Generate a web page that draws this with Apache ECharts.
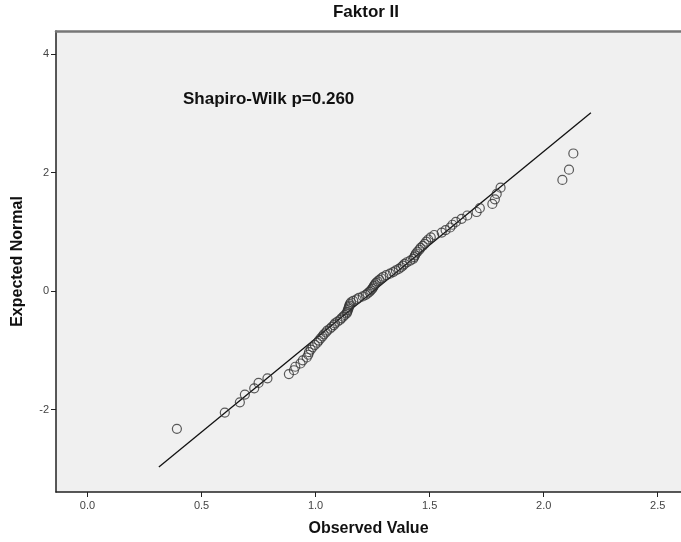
<!DOCTYPE html>
<html>
<head>
<meta charset="utf-8">
<script src="https://cdn.jsdelivr.net/npm/echarts@6/dist/echarts.min.js"></script>
<style>html,body{margin:0;padding:0;background:#fff}#c{width:681px;height:542px}</style>
</head>
<body>
<div id="c"></div>
<script>
const chartTitle = 'Faktor II';
const noteText = 'Shapiro-Wilk p=0.260';
const xAxisName = 'Observed Value';
const yAxisName = 'Expected Normal';
const xTicks = [0, 0.5, 1, 1.5, 2, 2.5];
const yTicks = [-2, 0, 2, 4];
const observed = [0.392,0.602,0.668,0.690,0.731,0.750,0.789,0.883,0.905,0.911,0.934,0.944,0.961,0.968,0.971,0.979,0.987,0.997,1.007,1.014,1.022,1.030,1.036,1.045,1.051,1.063,1.071,1.080,1.085,1.096,1.107,1.113,1.121,1.128,1.136,1.139,1.141,1.144,1.146,1.148,1.150,1.155,1.165,1.180,1.190,1.207,1.220,1.228,1.236,
1.242,1.248,1.252,1.256,1.260,1.265,1.272,1.280,1.288,1.297,1.310,1.326,1.340,1.352,1.365,1.375,1.383,1.390,1.400,1.415,1.428,1.432,1.436,1.440,1.447,1.455,1.460,1.470,1.478,1.485,1.494,1.505,1.520,1.553,1.570,1.590,1.600,1.615,1.640,1.665,1.706,1.720,1.775,1.786,1.794,1.811,2.082,2.111,2.130];
const expected = [-2.323,-2.049,-1.876,-1.746,-1.640,-1.550,-1.471,-1.400,-1.335,-1.276,-1.221,-1.168,-1.120,-1.074,-1.030,-0.988,-0.947,-0.908,-0.871,-0.834,-0.799,-0.765,-0.731,-0.698,-0.667,-0.635,-0.605,-0.574,-0.545,-0.516,-0.487,-0.459,-0.431,-0.403,-0.376,-0.349,-0.322,-0.295,-0.269,-0.243,-0.217,-0.191,-0.165,-0.140,-0.114,-0.089,-0.063,-0.038,-0.013,
0.013,0.038,0.063,0.089,0.114,0.140,0.165,0.191,0.217,0.243,0.269,0.295,0.322,0.349,0.376,0.403,0.431,0.459,0.487,0.516,0.545,0.574,0.605,0.635,0.667,0.698,0.731,0.765,0.799,0.834,0.871,0.908,0.947,0.988,1.030,1.074,1.120,1.168,1.221,1.276,1.335,1.400,1.471,1.550,1.640,1.746,1.876,2.049,2.323];
const lineX = [0.313, 2.207];
const lineY = [-2.97, 3.01];

const pts = observed.map((v, i) => [v, expected[i]]);
const linePts = lineX.map((v, i) => [v, lineY[i]]);
const FONT = 'Arial, "Liberation Sans", sans-serif';
const XMIN = -0.138, XMAX = 2.602;

const chart = echarts.init(document.getElementById('c'));
chart.setOption({
  animation: false,
  backgroundColor: '#ffffff',
  grid: {
    left: 56, top: 31, right: 0, bottom: 50,
    show: true, backgroundColor: '#f0f0f0', borderWidth: 0
  },
  graphic: [
    { type: 'text', x: 366, y: 4, style: { text: chartTitle, font: 'bold 17px ' + FONT, fill: '#111', textAlign: 'center' } },
    { type: 'text', x: 183, y: 91, style: { text: noteText, font: 'bold 17px ' + FONT, fill: '#111' } }
  ],
  xAxis: [{
    type: 'value', min: XMIN, max: XMAX,
    name: xAxisName, nameLocation: 'middle', nameGap: 29,
    nameTextStyle: { fontFamily: FONT, fontWeight: 'bold', fontSize: 16, color: '#111' },
    axisLine: { show: true, onZero: false, lineStyle: { color: '#222', width: 1.5 } },
    axisTick: { show: true, length: 5, customValues: xTicks, lineStyle: { color: '#222' } },
    axisLabel: { customValues: xTicks, fontFamily: FONT, fontSize: 11, color: '#444', margin: 8,
      formatter: v => v.toFixed(1) },
    splitLine: { show: false }
  }, {
    type: 'value', position: 'top', min: XMIN, max: XMAX,
    axisLine: { show: true, onZero: false, lineStyle: { color: '#777', width: 2.5 } },
    axisTick: { show: false }, axisLabel: { show: false }, splitLine: { show: false }
  }],
  yAxis: {
    type: 'value', min: -3.39, max: 4.39,
    name: yAxisName, nameLocation: 'middle', nameGap: 30, nameRotate: 90,
    nameTextStyle: { fontFamily: FONT, fontWeight: 'bold', fontSize: 16, color: '#111' },
    axisLine: { show: true, onZero: false, lineStyle: { color: '#222', width: 1.5 } },
    axisTick: { show: true, length: 5, customValues: yTicks, lineStyle: { color: '#222' } },
    axisLabel: { customValues: yTicks, fontFamily: FONT, fontSize: 11, color: '#444', margin: 7 },
    splitLine: { show: false }
  },
  series: [
    {
      type: 'line', data: linePts, symbol: 'none', silent: true,
      lineStyle: { color: '#111', width: 1.3 }, z: 2
    },
    {
      type: 'scatter', data: pts, symbol: 'circle', symbolSize: 9,
      itemStyle: { color: 'rgba(0,0,0,0)', borderColor: '#333', borderWidth: 1.2 }, z: 3
    }
  ]
});
</script>
</body>
</html>
